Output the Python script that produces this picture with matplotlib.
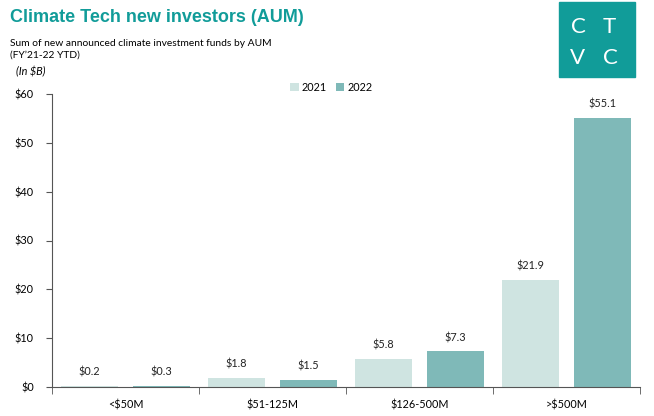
import matplotlib.pyplot as plt
import numpy as np
from matplotlib.patches import Rectangle

# Data
categories = ['<$50M', '$51-125M', '$126-500M', '>$500M']
aum_2021 = [0.2, 1.8, 5.8, 21.9]
aum_2022 = [0.3, 1.5, 7.3, 55.1]
series_names = ['2021', '2022']
yticks = [0, 10, 20, 30, 40, 50, 60]

c21 = '#CFE4E1'
c22 = '#7FB9B8'
teal = '#119C99'
axis_c = '#555555'
font = ['Lato', 'DejaVu Sans']

fig = plt.figure(figsize=(6.54, 4.16), dpi=100)
ax = fig.add_axes([52 / 654, 29 / 416, 588 / 654, 293 / 416])

x = np.arange(len(categories))
w = 0.39
off = 0.245
b1 = ax.bar(x - off, aum_2021, w, color=c21, label=series_names[0])
b2 = ax.bar(x + off, aum_2022, w, color=c22, label=series_names[1])

for bars in (b1, b2):
    for rect in bars:
        h = rect.get_height()
        ax.annotate(f'${h:.1f}', (rect.get_x() + rect.get_width() / 2, h),
                    xytext=(0, 6), textcoords='offset points', ha='center',
                    va='bottom', fontsize=7.8, family=font, color='#222222')

ax.set_xlim(-0.5, len(categories) - 0.5)
ax.set_ylim(0, 60)
ax.set_yticks(yticks)
ax.set_yticklabels([f'${t}' for t in yticks], fontsize=7.8, family=font)
ax.set_xticks(x)
ax.set_xticklabels(categories, fontsize=7.8, family=font)
ax.tick_params(axis='x', length=0, pad=9)
ax.tick_params(axis='y', length=4, color=axis_c, pad=9)
# group separators on x axis
ax.set_xticks(np.arange(len(categories) + 1) - 0.5, minor=True)
ax.tick_params(axis='x', which='minor', length=5, color=axis_c)

for s in ['top', 'right']:
    ax.spines[s].set_visible(False)
ax.spines['left'].set_color(axis_c)
ax.spines['bottom'].set_color(axis_c)

ax.legend(loc='upper center', bbox_to_anchor=(0.475, 1.075), ncol=2, frameon=False,
          prop={'family': font, 'size': 7.8}, handlelength=0.8, handleheight=0.8,
          columnspacing=0.8, handletextpad=0.3)

# Titles
fig.text(10 / 654, 1 - 18 / 416, 'Climate Tech new investors (AUM)', fontsize=13,
         fontweight='bold', color=teal, family=['Liberation Sans', 'DejaVu Sans'],
         va='center')
fig.text(10 / 654, 1 - 43 / 416, 'Sum of new announced climate investment funds by AUM',
         fontsize=7.4, family=font, va='center')
fig.text(10 / 654, 1 - 55 / 416, '(FY\u201921-22 YTD)', fontsize=7.4, family=font, va='center')
fig.text(16 / 654, 1 - 72 / 416, '(In $B)', fontsize=7.8, style='italic', family=font,
         va='center')

# CTVC logo
fig.patches.append(Rectangle((559 / 654, 1 - 77 / 416), 76 / 654, 75 / 416,
                             transform=fig.transFigure, color=teal, zorder=0))
for tx, ty, s in [(578, 27, 'C'), (609, 27, 'T'), (578, 58, 'V'), (610, 58, 'C')]:
    fig.text(tx / 654, 1 - ty / 416, s, color='white', fontsize=16, ha='center',
             va='center', family=['Lato', 'DejaVu Sans'], fontweight='normal')

fig.savefig('out.png', dpi=100)
